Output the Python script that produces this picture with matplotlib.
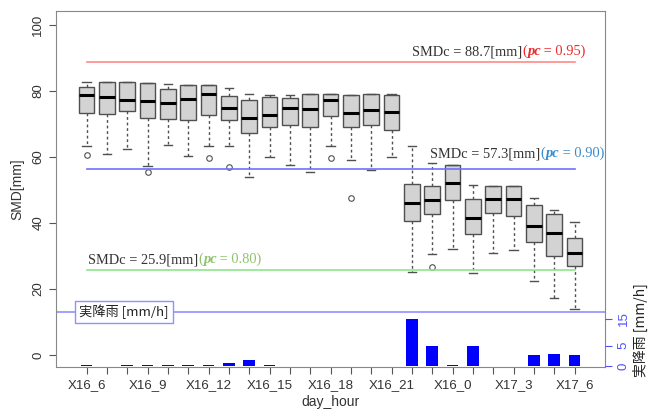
import numpy as np
import matplotlib
matplotlib.use("Agg")
from matplotlib import pyplot as plt

# hourly categories (X16_6 ... X17_6)
hours = ["X16_6", "X16_7", "X16_8", "X16_9", "X16_10", "X16_11", "X16_12", "X16_13",
         "X16_14", "X16_15", "X16_16", "X16_17", "X16_18", "X16_19", "X16_20", "X16_21",
         "X16_22", "X16_23", "X16_0", "X17_1", "X17_2", "X17_3", "X17_4", "X17_5", "X17_6"]
shown_labels = ["X16_6", "X16_9", "X16_12", "X16_15", "X16_18", "X16_21", "X16_0", "X17_3", "X17_6"]

# box statistics of SMD [mm]
whis_hi = [82.7, 82.7, 82.6, 82.4, 82.0, 81.8, 81.7, 81.0, 79.1, 78.9, 78.9, 79.1, 79.1,
           78.9, 79.1, 79.1, 63.3, 58.1, 57.7, 51.4, 51.2, 51.2, 47.6, 43.9, 40.3]
q3 = [81.3, 82.7, 82.6, 82.4, 80.7, 81.8, 81.7, 78.5, 77.1, 78.3, 78.0, 79.1, 79.1,
      78.9, 79.1, 78.7, 51.7, 51.2, 57.7, 47.3, 51.2, 51.2, 45.4, 42.6, 35.5]
med = [78.7, 78.2, 77.2, 76.8, 76.3, 77.6, 79.1, 74.9, 71.9, 72.6, 74.8, 74.6, 77.4,
       73.3, 74.3, 73.7, 46.1, 47.1, 52.2, 41.6, 47.4, 47.4, 39.0, 37.0, 30.8]
q1 = [73.2, 73.0, 73.8, 71.7, 71.5, 71.2, 72.8, 71.2, 67.3, 69.1, 69.6, 69.2, 72.3,
      69.1, 69.8, 68.2, 40.5, 42.8, 47.1, 36.8, 43.1, 42.1, 34.3, 30.1, 27.0]
whis_lo = [63.3, 61.0, 62.3, 57.3, 63.6, 60.2, 63.2, 63.4, 53.9, 60.1, 57.5, 55.5, 63.4,
           59.1, 56.2, 59.9, 25.3, 30.5, 32.0, 25.0, 30.8, 31.8, 22.5, 17.4, 14.0]
outliers = [[60.5], [], [], [55.5], [], [], [59.6], [57.0], [], [], [], [], [59.7],
            [47.7], [], [], [], [26.7], [], [], [], [], [], [], []]

# observed rainfall [mm/h]
rain = [0.3, 0, 0.3, 0.3, 0.3, 0.3, 0.3, 0.7, 1.4, 0.3, 0, 0, 0, 0, 0, 0,
        15, 5, 0.3, 5, 0, 0, 2.6, 3.0, 2.6]

# critical SMD lines
smdc_value = ["88.7", "57.3", "25.9"]
smdc_level = [88.7, 56.4, 25.9]
pc_value = ["0.95", "0.90", "0.80"]
line_colors = ["#ff8a8a", "#7070ff", "#8ee68e"]
text_colors = ["#ee2a2a", "#3a8ccc", "#8cc46c"]
rain_divider = 13

serif = "Liberation Serif"
sans = "Liberation Sans"
cjk = ["Noto Sans CJK JP", "DejaVu Sans"]

fig = plt.figure(figsize=(6.5, 4.12), dpi=100)
ax = fig.add_axes([0.0862, 0.11, 0.8446, 0.8633])

pos = np.arange(1, len(hours) + 1)
stats = []
for i in range(len(hours)):
    stats.append(dict(med=med[i], q1=q1[i], q3=q3[i], whislo=whis_lo[i],
                      whishi=whis_hi[i], fliers=outliers[i]))

ax.bxp(stats, positions=pos, widths=0.78, capwidths=0.4, patch_artist=True,
       boxprops=dict(facecolor="#d3d3d3", edgecolor="#505050", linewidth=1),
       medianprops=dict(color="black", linewidth=2.2),
       whiskerprops=dict(color="#505050", linestyle=(0, (2, 2)), linewidth=1),
       capprops=dict(color="#505050", linewidth=1),
       flierprops=dict(marker="o", markersize=4, markerfacecolor="none",
                       markeredgecolor="#505050", markeredgewidth=0.8))

# critical lines and their labels
label_x = [17.0, 17.9, 1.06]
label_y = [90.8, 59.9, 27.8]
for i in range(3):
    ax.plot([pos[0], pos[-1]], [smdc_level[i], smdc_level[i]], color=line_colors[i], lw=1.2)
    t1 = ax.text(label_x[i], label_y[i], "SMDc = " + smdc_value[i] + "[mm]",
                 color="#333333", family=serif, fontsize=10.4, va="baseline", ha="left")
    t2 = ax.annotate("(", xy=(1, label_y[i]), xycoords=(t1, "data"), color=text_colors[i],
                     family=serif, fontsize=10.4, va="baseline", ha="left")
    t3 = ax.annotate("pc", xy=(1, label_y[i]), xycoords=(t2, "data"), color=text_colors[i],
                     family=serif, style="italic", weight="bold", fontsize=10.4,
                     va="baseline", ha="left")
    ax.annotate(" = " + pc_value[i] + ")", xy=(1, label_y[i]), xycoords=(t3, "data"),
                color=text_colors[i], family=serif, fontsize=10.4, va="baseline", ha="left")

ax.axhline(rain_divider, color="#9090ff", lw=1.2)
ax.text(2.85, rain_divider, "実降雨 [mm/h]", family=cjk,
        fontsize=9.5, ha="center", va="center", color="#222222",
        bbox=dict(boxstyle="square,pad=0.3", facecolor="white", edgecolor="#9090ff", lw=1))

ax.set_xlim(-0.5, 26.5)
ax.set_ylim(-3.5, 104.2)
ax.set_xticks(pos)
ax.set_xticklabels([h if h in shown_labels else "" for h in hours])
ax.set_yticks([0, 20, 40, 60, 80, 100])
ax.tick_params(axis="both", colors="#555555", labelcolor="#333333", labelsize=9.5, length=5)
ax.tick_params(axis="x", pad=4)
for lab in ax.get_yticklabels():
    lab.set_rotation(90)
    lab.set_va("center")
for lab in ax.get_xticklabels() + ax.get_yticklabels():
    lab.set_family(sans)
for s in ax.spines.values():
    s.set_color("#888888")
ax.set_xlabel("day_hour", family=sans, fontsize=10, color="#333333", labelpad=3)
ax.set_ylabel("SMD[mm]", family=sans, fontsize=10, color="#333333", labelpad=6)


# rainfall bars on a second axis (compressed above 5 mm/h as in the original)
def fwd(v):
    v = np.asarray(v, dtype=float)
    return np.where(v <= 5, v, 5 + (v - 5) * 0.657)


def inv(u):
    u = np.asarray(u, dtype=float)
    return np.where(u <= 5, u, 5 + (u - 5) / 0.657)


ax2 = ax.twinx()
ax2.set_yscale("function", functions=(fwd, inv))
ax2.bar(pos, rain, width=0.57, color="#0000ff")
ax2.set_ylim(-0.17, 130)
ax2.set_yticks([0, 5, 15])
ax2.set_yticklabels(["0", "5", "15"])
ax2.yaxis.set_minor_locator(matplotlib.ticker.NullLocator())
ax2.tick_params(axis="y", colors="#5050ff", labelsize=9.5, length=5, pad=4)
for lab in ax2.get_yticklabels():
    lab.set_rotation(90)
    lab.set_va("center")
    lab.set_family(sans)
for s in ax2.spines.values():
    s.set_visible(False)

fig.text(0.985, 0.20, "実降雨 [mm/h]", family=cjk,
         fontsize=10, rotation=90, ha="center", va="center", color="#222222")

fig.savefig("out.png", dpi=100)
